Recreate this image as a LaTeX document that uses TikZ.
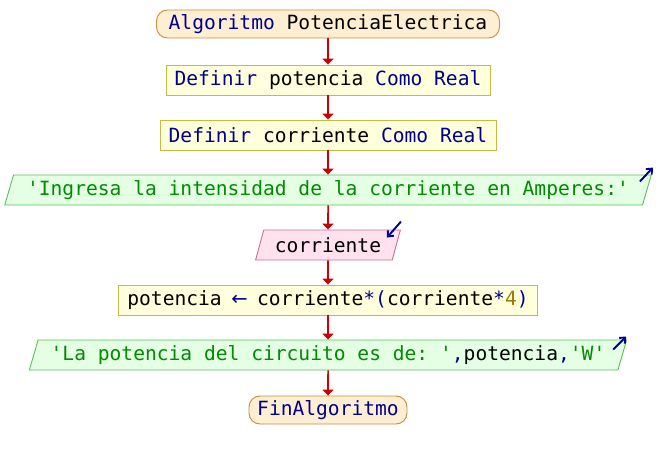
\documentclass[tikz,border=0pt]{standalone}
\usepackage{fontspec}
\setmonofont{DejaVu Sans Mono}
\newfontfamily\arrowfont{DejaVu Sans}
\usetikzlibrary{shapes.geometric,arrows.meta}

\definecolor{kw}{HTML}{000090}
\definecolor{str}{HTML}{008C00}
\definecolor{num}{HTML}{A07800}
\definecolor{flow}{HTML}{CC0000}
\definecolor{termfill}{HTML}{FFEFD2}
\definecolor{termline}{HTML}{C88C3C}
\definecolor{procfill}{HTML}{FFFFDC}
\definecolor{procline}{HTML}{C4BC44}
\definecolor{outfill}{HTML}{E4FFE4}
\definecolor{outline}{HTML}{58C058}
\definecolor{infill}{HTML}{FFE2EE}
\definecolor{inline}{HTML}{CC6C98}

\newcommand{\kw}[1]{\textcolor{kw}{#1}}
\newcommand{\str}[1]{\textcolor{str}{#1}}
% assignment arrow, wider than one cell but keeping the mono spacing
\newcommand{\assignarrow}{\makebox[11.8pt][c]{\kw{\arrowfont ←}}}

\begin{document}
\begin{tikzpicture}[x=1pt,y=-1pt,
  every node/.style={font=\ttfamily\fontsize{19.6}{22}\selectfont, inner sep=2pt},
  termbox/.style={rectangle, rounded corners=11pt, draw=termline, fill=termfill,
    line width=0.9pt, minimum height=28pt},
  procbox/.style={rectangle, draw=procline, fill=procfill, line width=0.9pt,
    minimum height=30pt},
  iobox/.style={trapezium, trapezium left angle=70, trapezium right angle=110,
    trapezium stretches=true, line width=0.9pt, minimum height=30pt},
  outbox/.style={iobox, draw=outline, fill=outfill},
  inbox/.style={iobox, draw=inline, fill=infill},
  flowarrow/.style={draw=flow, line width=1.6pt, -{Triangle[length=6pt,width=11pt]}},
  ioarrow/.style={draw=kw, line width=1.9pt, -{Straight Barb[length=4.5pt,width=8pt]}}
]
\useasboundingbox (0,0) rectangle (656,460);

\node[termbox, minimum width=343pt] (start) at (328,24) {\kw{Algoritmo} PotenciaElectrica};
\node[procbox, minimum width=324pt] (defpot) at (328,80) {\kw{Definir} potencia \kw{Como Real}};
\node[procbox, minimum width=336pt] (defcor) at (328,135) {\kw{Definir} corriente \kw{Como Real}};
\node[outbox, minimum width=648pt] (ask) at (328,190)
  {\str{'Ingresa la intensidad de la corriente en Amperes:'}};
\node[inbox, minimum width=145pt] (read) at (328,245) {corriente};
\node[procbox, minimum width=419pt] (calc) at (328,300)
  {potencia \assignarrow{} corriente\kw{*(}corriente\kw{*}\textcolor{num}{4}\kw{)}};
\node[outbox, minimum width=602pt] (show) at (328,355)
  {\str{'La potencia del circuito es de: '}\kw{,}potencia\kw{,}\str{'W'}};
\node[termbox, minimum width=158pt] (stop) at (328,410) {\kw{FinAlgoritmo}};

% flow connectors
\draw[flowarrow] (start) -- (defpot);
\draw[flowarrow] (defpot) -- (defcor);
\draw[flowarrow] (defcor) -- (ask);
\draw[flowarrow] (ask) -- (read);
\draw[flowarrow] (read) -- (calc);
\draw[flowarrow] (calc) -- (show);
\draw[flowarrow] (show) -- (stop);

% output / input markers
\draw[ioarrow] ([shift={(-12,7)}]ask.top right corner) -- ([shift={(1,-7)}]ask.top right corner);
\draw[ioarrow] ([shift={(0,-8)}]read.top right corner) -- ([shift={(-14,8)}]read.top right corner);
\draw[ioarrow] ([shift={(-14,10)}]show.top right corner) -- ([shift={(-1,-3)}]show.top right corner);
\end{tikzpicture}
\end{document}
